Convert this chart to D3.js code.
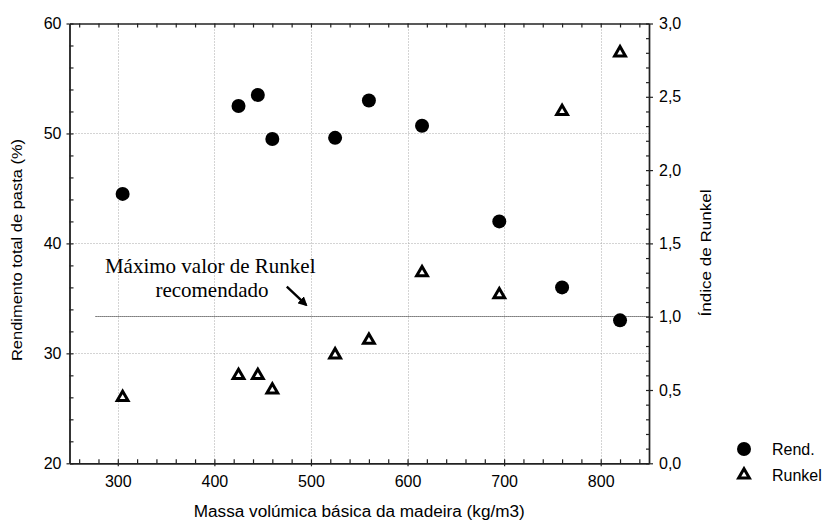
<!DOCTYPE html>
<html><head><meta charset="utf-8">
<script src="https://cdn.jsdelivr.net/npm/d3@7"></script>
<style>
body{margin:0;background:#fff;}
svg{display:block;}
text{font-family:Arial,"Liberation Sans",sans-serif;fill:#000;}
</style></head>
<body>
<svg id="c" width="826" height="520"></svg>
<script>
// ---- data ----
const density   = [305, 425, 445, 460, 525, 560, 615, 695, 760, 820];
const rendValues = [44.5, 52.5, 53.5, 49.5, 49.6, 53.0, 50.7, 42.0, 36.0, 33.0];
const runkelValues = [0.45, 0.60, 0.60, 0.50, 0.74, 0.84, 1.30, 1.15, 2.40, 2.80];
const xTicks = [300, 400, 500, 600, 700, 800];
const yLeftTicks = [20, 30, 40, 50, 60];
const yRightTicks = [0, 0.5, 1.0, 1.5, 2.0, 2.5, 3.0];
const runkelLimit = 1.0;
const seriesNames = ["Rend.", "Runkel"];
const xLabel = "Massa volúmica básica da madeira (kg/m3)";
const yLeftLabel = "Rendimento total de pasta (%)";
const yRightLabel = "Índice de Runkel";
const noteLines = ["Máximo valor de Runkel", "recomendado"];

// ---- layout ----
const L = 69.5, R = 649, T = 23.5, B = 463.3;
const svg = d3.select("#c");
const x = d3.scaleLinear().domain([250, 850]).range([L, R]);
const yL = d3.scaleLinear().domain([20, 60]).range([B, T]);
const yR = d3.scaleLinear().domain([0, 3]).range([B, T]);
const fmtComma = d => d3.format(".1f")(d).replace(".", ",");
const snap = v => Math.round(v) + 0.5;

// grid
const grid = svg.append("g").attr("stroke", "#a8a8a8").attr("stroke-width", 1).attr("stroke-dasharray", "1,2");
grid.selectAll("line.v").data(xTicks).join("line").attr("class", "v")
  .attr("x1", d => snap(x(d))).attr("x2", d => snap(x(d))).attr("y1", T).attr("y2", B);
grid.selectAll("line.h").data([30, 40, 50]).join("line").attr("class", "h")
  .attr("y1", d => snap(yL(d))).attr("y2", d => snap(yL(d))).attr("x1", L).attr("x2", R);

// Runkel limit line
svg.append("line")
  .attr("x1", x(277)).attr("x2", x(850))
  .attr("y1", snap(yR(runkelLimit) - 1)).attr("y2", snap(yR(runkelLimit) - 1))
  .attr("stroke", "#1a1a1a").attr("stroke-width", 1).attr("stroke-dasharray", "1,1");

// axes
const axisColor = "#222";
function styleAxis(g) {
  g.selectAll("path.domain").attr("stroke", axisColor).attr("stroke-width", 1.4);
  g.selectAll(".tick line").attr("stroke", axisColor).attr("stroke-width", 1.2);
  g.selectAll("text").style("font-size", "16px").style("font-family", "Arial, 'Liberation Sans', sans-serif").attr("fill", "#000");
}
const xMinor = d3.range(260, 851, 20);
// bottom
svg.append("g").attr("transform", `translate(0,${B})`)
  .call(d3.axisBottom(x).tickValues(xMinor).tickSize(-4).tickSizeOuter(0).tickFormat(""))
  .call(styleAxis);
svg.append("g").attr("transform", `translate(0,${B})`)
  .call(d3.axisBottom(x).tickValues(xTicks).tickSize(3).tickSizeOuter(0).tickPadding(9))
  .call(styleAxis)
  .call(g => g.selectAll("text").attr("dy", "0.71em"));
// top
svg.append("g").attr("transform", `translate(0,${T})`)
  .call(d3.axisTop(x).tickValues(xMinor).tickSize(-4).tickSizeOuter(0).tickFormat(""))
  .call(styleAxis);
// left
svg.append("g").attr("transform", `translate(${L},0)`)
  .call(d3.axisLeft(yL).tickValues(d3.range(20, 60.1, 2)).tickSize(-4).tickSizeOuter(0).tickFormat(""))
  .call(styleAxis);
svg.append("g").attr("transform", `translate(${L},0)`)
  .call(d3.axisLeft(yL).tickValues(yLeftTicks).tickSize(3).tickSizeOuter(0).tickPadding(5))
  .call(styleAxis);
// right
svg.append("g").attr("transform", `translate(${R},0)`)
  .call(d3.axisRight(yR).tickValues(d3.range(0, 3.001, 0.1)).tickSize(-3).tickSizeOuter(0).tickFormat(""))
  .call(styleAxis);
svg.append("g").attr("transform", `translate(${R},0)`)
  .call(d3.axisRight(yR).tickValues(yRightTicks).tickSize(4).tickSizeOuter(0).tickPadding(6).tickFormat(fmtComma))
  .call(styleAxis);

// axis labels
svg.append("text").attr("x", (L + R) / 2).attr("y", 516.5).attr("text-anchor", "middle")
  .style("font-size", "16px").attr("textLength", 331).attr("lengthAdjust", "spacingAndGlyphs").text(xLabel);
svg.append("text").attr("transform", "translate(22,250) rotate(-90)").attr("text-anchor", "middle")
  .style("font-size", "15px").attr("textLength", 222).attr("lengthAdjust", "spacingAndGlyphs").text(yLeftLabel);
svg.append("text").attr("transform", "translate(711,253) rotate(-90)").attr("text-anchor", "middle")
  .style("font-size", "15px").attr("textLength", 127).attr("lengthAdjust", "spacingAndGlyphs").text(yRightLabel);

// annotation
svg.append("text").attr("x", x(395.7)).attr("y", yR(1.3)).attr("text-anchor", "middle")
  .style("font-family", "'Liberation Serif','Times New Roman',serif").style("font-size", "21px").text(noteLines[0]);
svg.append("text").attr("x", x(397.5)).attr("y", yR(1.136)).attr("text-anchor", "middle")
  .style("font-family", "'Liberation Serif','Times New Roman',serif").style("font-size", "21px").text(noteLines[1]);
svg.append("defs").append("marker").attr("id", "ah").attr("viewBox", "0 0 10 10")
  .attr("refX", 8).attr("refY", 5).attr("markerWidth", 4).attr("markerHeight", 4)
  .attr("orient", "auto").attr("markerUnits", "strokeWidth")
  .append("path").attr("d", "M0,0 L10,5 L0,10 z").attr("fill", "#000");
svg.append("line").attr("x1", x(475)).attr("y1", yR(1.205)).attr("x2", x(495)).attr("y2", yR(1.08))
  .attr("stroke", "#000").attr("stroke-width", 2.4).attr("marker-end", "url(#ah)");

// points
const tri = d3.symbol().type(d3.symbolTriangle).size(50);
svg.append("g").selectAll("circle").data(density).join("circle")
  .attr("cx", d => x(d)).attr("cy", (d, i) => yL(rendValues[i])).attr("r", 7).attr("fill", "#000");
svg.append("g").selectAll("path").data(density).join("path")
  .attr("d", tri).attr("transform", (d, i) => `translate(${x(d)},${yR(runkelValues[i])})`)
  .attr("fill", "#fff").attr("stroke", "#000").attr("stroke-width", 3).attr("stroke-linejoin", "miter");

// legend
const lg = svg.append("g");
lg.append("circle").attr("cx", 744).attr("cy", 449).attr("r", 7).attr("fill", "#000");
lg.append("path").attr("d", tri).attr("transform", "translate(744,475)")
  .attr("fill", "#fff").attr("stroke", "#000").attr("stroke-width", 3);
lg.append("text").attr("x", 772).attr("y", 454.5).style("font-size", "16px").text(seriesNames[0]);
lg.append("text").attr("x", 772).attr("y", 480.5).style("font-size", "16px").text(seriesNames[1]);
</script>
</body></html>
